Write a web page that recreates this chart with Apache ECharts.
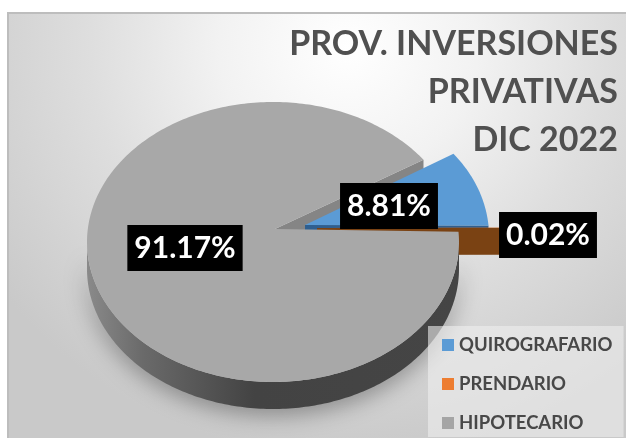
<!DOCTYPE html>
<html><head><meta charset="utf-8">
<style>
html,body{margin:0;padding:0;background:#fff;width:626px;height:439px;overflow:hidden}
#bg{position:absolute;left:7px;top:12px;width:619px;height:426px;box-sizing:border-box;border-top:2px solid #bdbdbd;border-left:2px solid #bdbdbd;
background:radial-gradient(ellipse 430px 410px at 55% 8%,#ffffff 0%,#f2f2f2 30%,#dedede 60%,#c9c9c9 100%)}
#c{position:absolute;left:0;top:0;width:626px;height:439px}
</style>
<script src="https://cdn.jsdelivr.net/npm/echarts@6/dist/echarts.min.js"></script>
</head><body><div id="bg"></div><div id="c"></div>
<script>
const categories = ['QUIROGRAFARIO','PRENDARIO','HIPOTECARIO'];
const values = [8.81,0.02,91.17];
const titleLines = ['PROV. INVERSIONES','PRIVATIVAS','DIC 2022'];

const total = values.reduce((a,b)=>a+b,0);
const startDeg = -36, rx = 186, ry = 140, depth = 27;
const looks = [
  {top:'#5b9bd5', wall:'#2f5f8f', z:2, cx:303, cy:236, ax:305, ay:225, lx:389, ly:206, legend:'#5b9bd5'},
  {top:'#ed7d31', wall:'#7a4213', z:3, cx:315, cy:238, ax:317, ay:228, lx:548, ly:235, legend:'#ed7d31'},
  {top:'#a8a8a8', wall:'#444444', z:4, cx:273, cy:242, ax:275, ay:229, lx:185, ly:248, legend:'#a5a5a5'}
];
const rad = d=>d*Math.PI/180;

function renderItem(params, api){
  const i = params.seriesIndex, s = looks[i];
  const before = values.slice(0,i).reduce((a,b)=>a+b,0);
  const t0 = startDeg + before/total*360;
  const sweep = api.value(0)/total*360;
  const rim = t=>[s.cx+rx*Math.cos(rad(t)), s.cy+ry*Math.sin(rad(t))];
  const arc = (a,b)=>{const n=Math.max(2,Math.ceil(Math.abs(b-a)));const p=[];for(let k=0;k<=n;k++)p.push(rim(a+(b-a)*k/n));return p;};
  const down = p=>[p[0],p[1]+depth];
  const children = [];
  const t1 = t0+sweep;

  // radial cut faces
  if(i===2){
    const e = rim(t1);
    children.push({type:'polygon',z2:0,shape:{points:[[s.ax,s.ay],e,down(e),[s.ax,s.ay+depth]]},style:{fill:'#858585'}});
  } else {
    const e = rim(t1);
    children.push({type:'polygon',z2:s.z,shape:{points:[[s.ax,s.ay],e,down(e),[s.ax,s.ay+depth]]},style:{fill:s.wall}});
  }
  // outer visible wall (front half of rim)
  const a = Math.max(t0,0), b = Math.min(t1,180);
  if(b>a){
    const r = arc(a,b);
    children.push({type:'polygon',z2:s.z,shape:{points:r.concat(r.map(down).reverse())},
      style:{fill:new echarts.graphic.LinearGradient(0,0,1,0,[
        {offset:0,color:'#8a8a8a'},{offset:.15,color:'#6a6a6a'},{offset:.45,color:'#434343'},{offset:1,color:'#454545'}]),
        shadowBlur:22,shadowColor:'rgba(0,0,0,.35)',shadowOffsetY:6}});
  }
  // top face
  children.push({type:'polygon',z2:s.z+1,shape:{points:[[s.ax,s.ay]].concat(arc(t0,t1))},style:{fill:s.top}});
  // value label
  children.push({type:'text',z2:20,style:{
    text:api.value(0).toFixed(2)+'%',x:s.lx,y:s.ly,align:'center',verticalAlign:'middle',
    fill:'#fff',fontFamily:'Lato',fontWeight:'bold',fontSize:30,backgroundColor:'#000',padding:[8,7,8,7],
    boxShadowBlur:6,boxShadowColor:'rgba(0,0,0,.45)',boxShadowOffsetX:2,boxShadowOffsetY:2}});
  return {type:'group',children};
}

const chart = echarts.init(document.getElementById('c'),null,{renderer:'canvas'});
chart.setOption({
  animation:false,
  backgroundColor:'transparent',
  title:{text:titleLines.join('\n'),left:613,top:15,textAlign:'right',
    textStyle:{fontFamily:'Lato',fontWeight:'bold',fontSize:34,lineHeight:48,color:'#505050'}},
  legend:{orient:'vertical',left:428,top:326,padding:[8,11,3,14],itemGap:17,itemWidth:12,itemHeight:12,icon:'rect',
    backgroundColor:'rgba(238,238,238,.6)',data:categories,
    textStyle:{fontFamily:'Lato',fontWeight:'bold',fontSize:18.5,color:'#484848',lineHeight:22},selectedMode:false},
  series:categories.map((name,i)=>({
    type:'custom',name,coordinateSystem:'none',renderItem,
    itemStyle:{color:looks[i].legend},
    data:[[values[i]]]
  }))
});
</script></body></html>
